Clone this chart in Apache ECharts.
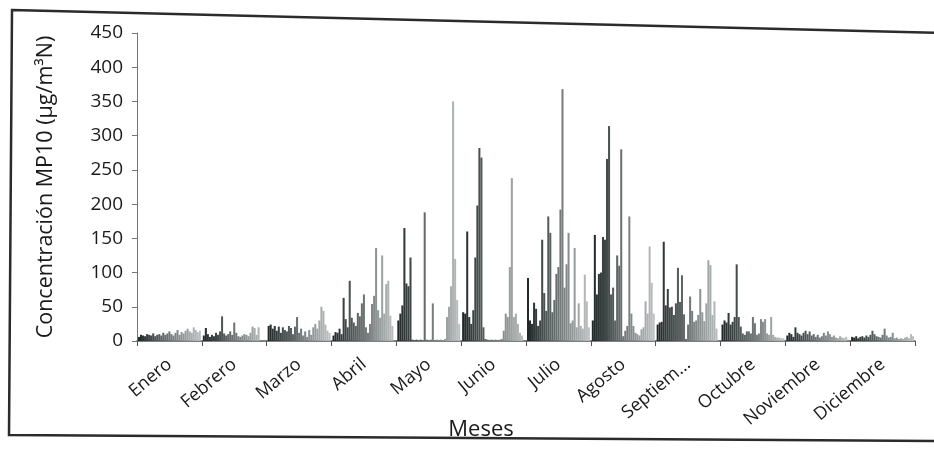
<!DOCTYPE html>
<html>
<head>
<meta charset="utf-8">
<script src="https://cdn.jsdelivr.net/npm/echarts@6/dist/echarts.min.js"></script>
<style>
  html, body { margin: 0; padding: 0; background: #ffffff; }
  #chart { width: 934px; height: 454px; }
</style>
</head>
<body>
<div id="chart"></div>
<script>
// Month labels on the category axis
const meses = ['Enero', 'Febrero', 'Marzo', 'Abril', 'Mayo', 'Junio', 'Julio',
  'Agosto', 'Septiem...', 'Octubre', 'Noviembre', 'Diciembre'];

// Y-axis ticks
const yTicks = [0, 50, 100, 150, 200, 250, 300, 350, 400, 450];

// Daily MP10 concentration (µg/m³N), days 1..31 of each month (null = no such day)
const enero     = [6, 9, 8, 7, 10, 9, 8, 11, 7, 9, 10, 8, 12, 9, 11, 14, 10, 8, 12, 16, 9, 13, 11, 15, 18, 14, 12, 20, 16, 13, 15];
const febrero   = [8, 19, 10, 6, 9, 7, 12, 9, 14, 36, 11, 8, 10, 14, 9, 27, 12, 7, 6, 8, 10, 9, 7, 12, 21, 19, 9, 20, null, null, null];
const marzo     = [22, 24, 18, 22, 15, 21, 12, 20, 16, 14, 22, 19, 10, 21, 35, 12, 18, 8, 14, 6, 16, 9, 20, 25, 18, 30, 50, 44, 24, 15, 12];
const abril     = [8, 13, 12, 18, 10, 63, 32, 20, 88, 34, 27, 22, 41, 36, 55, 68, 20, 12, 25, 54, 66, 136, 45, 34, 125, 40, 83, 88, 37, 22, null];
const mayo      = [30, 40, 52, 165, 84, 80, 122, 2, 1, 2, 1, 2, 1, 188, 2, 1, 2, 55, 1, 2, 1, 2, 1, 3, 35, 50, 80, 350, 120, 60, 25];
const junio     = [42, 40, 160, 35, 25, 45, 122, 198, 282, 268, 20, 3, 2, 1, 2, 1, 2, 1, 2, 3, 15, 40, 35, 108, 238, 35, 40, 25, 12, 8, null];
const julio     = [92, 30, 25, 56, 47, 22, 30, 148, 70, 44, 182, 158, 42, 60, 98, 108, 192, 368, 78, 112, 158, 26, 30, 136, 20, 55, 22, 18, 97, 58, 20];
const agosto    = [30, 155, 68, 98, 100, 152, 148, 266, 314, 68, 78, 30, 125, 110, 280, 7, 15, 22, 182, 40, 22, 12, 10, 8, 17, 20, 58, 40, 138, 85, 40];
const septiembre = [24, 27, 28, 145, 52, 76, 49, 50, 38, 55, 107, 57, 96, 39, 3, 24, 65, 44, 28, 30, 38, 76, 42, 29, 55, 118, 111, 38, 58, 18, null];
const octubre   = [24, 30, 27, 41, 24, 28, 35, 112, 35, 21, 11, 9, 14, 14, 11, 35, 26, 9, 11, 32, 28, 32, 11, 9, 35, 9, 6, 5, 5, 4, 4];
const noviembre = [8, 12, 10, 6, 20, 12, 10, 8, 12, 15, 10, 14, 8, 10, 6, 9, 5, 7, 12, 8, 14, 10, 6, 8, 5, 4, 7, 5, 4, 6, null];
const diciembre = [6, 5, 7, 4, 6, 7, 5, 8, 6, 9, 15, 10, 7, 6, 5, 9, 18, 8, 5, 6, 12, 4, 5, 3, 4, 3, 5, 6, 4, 10, 7];

const porMes = [enero, febrero, marzo, abril, mayo, junio, julio, agosto,
  septiembre, octubre, noviembre, diciembre];

// One bar series per day of the month, shaded from dark (day 1) to light (day 31)
function tonoDia(i) {
  const t = i / 30;
  const a = [32, 40, 40], b = [188, 192, 192];
  const c = a.map((v, k) => Math.round(v + (b[k] - v) * t));
  return 'rgb(' + c.join(',') + ')';
}

const series = [];
for (let d = 0; d < 31; d++) {
  series.push({
    type: 'bar',
    name: 'Día ' + (d + 1),
    data: porMes.map(m => m[d]),
    barGap: '0%',
    barCategoryGap: '3%',
    itemStyle: { color: tonoDia(d) },
    emphasis: { disabled: true }
  });
}

const chart = echarts.init(document.getElementById('chart'), null, { renderer: 'canvas' });
chart.setOption({
  animation: false,
  backgroundColor: '#ffffff',
  grid: { left: 137, right: 19, top: 33, bottom: 113, containLabel: false },
  xAxis: {
    type: 'category',
    data: meses,
    axisLine: { lineStyle: { color: '#555', width: 1.5 } },
    axisTick: { show: true, length: 5, lineStyle: { color: '#555' } },
    axisLabel: {
      rotate: 40, margin: 21, interval: 0,
      fontFamily: 'Open Sans', fontSize: 18, color: '#1a1a1a'
    }
  },
  yAxis: {
    type: 'value',
    min: yTicks[0],
    max: yTicks[yTicks.length - 1],
    interval: 50,
    name: 'Concentración MP10 (µg/m³N)',
    nameLocation: 'middle',
    nameRotate: 90,
    nameGap: 80,
    nameTextStyle: { fontFamily: 'Open Sans', fontSize: 21.5, color: '#1a1a1a' },
    axisLine: { show: true, lineStyle: { color: '#777', width: 1 } },
    axisTick: { show: true, length: 5, lineStyle: { color: '#777' } },
    splitLine: { show: false },
    axisLabel: { margin: 14, fontFamily: 'Open Sans', fontSize: 19, color: '#1a1a1a' }
  },
  graphic: [{
    type: 'polygon',
    silent: true,
    shape: { points: [[12, 10], [944, 33], [944, 441], [9, 435]] },
    style: { fill: 'none', stroke: '#2b2b2b', lineWidth: 2.5 }
  }, {
    // x-axis title
    type: 'text',
    silent: true,
    x: 481, y: 430,
    style: {
      text: 'Meses', fontFamily: 'Open Sans', fontSize: 22, fill: '#1a1a1a',
      align: 'center', verticalAlign: 'middle'
    }
  }],
  series: series
});
</script>
</body>
</html>
